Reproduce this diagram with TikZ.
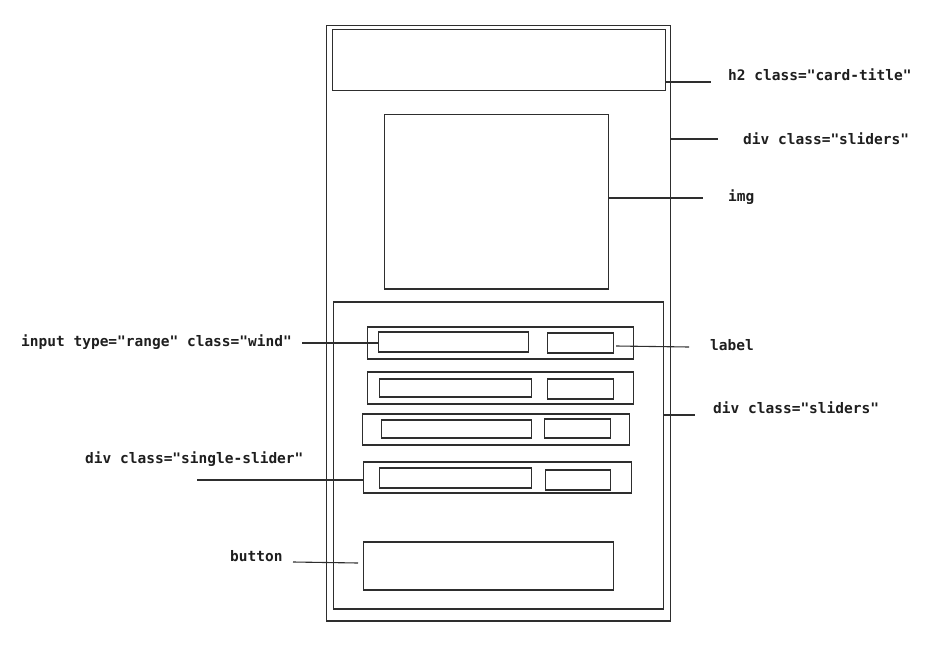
\documentclass[tikz,border=0pt]{standalone}
\usepackage{fontspec}
\setmonofont{DejaVu Sans Mono}
\definecolor{ink}{HTML}{2E2E2E}
\definecolor{txt}{HTML}{1E1E1E}
\begin{document}
\begin{tikzpicture}[x=1pt,y=-1pt,
  sketch/.style={draw=ink, line width=1pt, inner sep=0pt, outer sep=0pt,
    postaction={draw=ink, line width=0.6pt, transform canvas={shift={(0.6pt,0.5pt)}}}},
  wire/.style={draw=ink, line width=1.1pt},
  tag/.style={anchor=west, inner sep=0pt, text=txt,
    font=\ttfamily\bfseries\fontsize{14.5}{17}\selectfont}]
\useasboundingbox (0,0) rectangle (936,650);

% card and its parts
\node[sketch, minimum width=344, minimum height=595] (card) at (498,323.5) {};
\node[sketch, minimum width=333, minimum height=61] (title) at (498.5,60.5) {};
\node[sketch, minimum width=224, minimum height=174] (img) at (496,202) {};
\node[sketch, minimum width=330, minimum height=307] (sliders) at (498,455.5) {};

% slider rows: range input + label
\node[sketch, minimum width=266, minimum height=32] (row1) at (500,343) {};
\node[sketch, minimum width=150, minimum height=20] (r1a) at (453,342) {};
\node[sketch, minimum width=66, minimum height=20] (r1b) at (580,343) {};

\node[sketch, minimum width=266, minimum height=32] (row2) at (500,388) {};
\node[sketch, minimum width=152, minimum height=18] (r2a) at (455,388) {};
\node[sketch, minimum width=66, minimum height=20] (r2b) at (580,389) {};

\node[sketch, minimum width=267, minimum height=31] (row3) at (495.5,429.5) {};
\node[sketch, minimum width=150, minimum height=18] (r3a) at (456,429) {};
\node[sketch, minimum width=66, minimum height=19] (r3b) at (577,428.5) {};

\node[sketch, minimum width=268, minimum height=31] (row4) at (497,477.5) {};
\node[sketch, minimum width=152, minimum height=20] (r4a) at (455,478) {};
\node[sketch, minimum width=65, minimum height=20] (r4b) at (577.5,480) {};

\node[sketch, minimum width=250, minimum height=48] (button) at (488,566) {};

% annotations
\node[tag] (tTitle) at (728,75) {h2 class="card-title"};
\node[tag] (tCard) at (743,139) {div class="sliders"};
\node[tag] (tImg) at (728,197) {img};
\node[tag] (tLabel) at (710,345) {label};
\node[tag] (tSliders) at (713,408) {div class="sliders"};
\node[tag] (tInput) at (21,342) {input type="range" class="wind"};
\node[tag] (tSingle) at (85,459) {div class="single-slider"};
\node[tag] (tButton) at (230,556) {button};

% free ends of the leader lines
\coordinate (eTitle) at (711,82);
\coordinate (eCard) at (718,139);
\coordinate (eImg) at (703,198);
\coordinate (eLabel) at (689,347);
\coordinate (eSliders) at (695,415);
\coordinate (eInput) at (302,343);
\coordinate (eSingle) at (197,480);
\coordinate (eButton) at (293,562);

% leader lines
\draw[wire] (title.east |- eTitle) -- (eTitle);
\draw[wire] (card.east |- eCard) -- (eCard);
\draw[wire] (img.east |- eImg) -- (eImg);
\draw[wire] ([shift={(3,3)}]r1b.east) -- (eLabel);
\draw[wire] (sliders.east |- eSliders) -- (eSliders);
\draw[wire] (eInput) -- (r1a.west |- eInput);
\draw[wire] (eSingle) -- (row4.west |- eSingle);
\draw[wire] (eButton) -- ([shift={(-5,-3)}]button.west);
\end{tikzpicture}
\end{document}
